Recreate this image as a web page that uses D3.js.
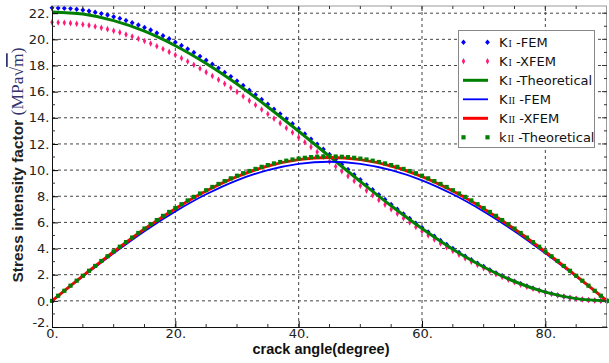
<!DOCTYPE html>
<html>
<head>
<meta charset="utf-8">
<script src="https://cdn.jsdelivr.net/npm/d3@7"></script>
<style>
body { margin: 0; background: #fff; }
svg { display: block; }
</style>
</head>
<body>
<svg id="chart" width="609" height="363"></svg>
<script>
// angles used by the marker series (degrees)
let markerAngles = [0,1,2,3,4,5,6,7,8,9,10,11,12,13,14,15,16,17,18,19,20,21,22,23,24,25,26,27,28,29,30,
  31,32,33,34,35,36,37,38,39,40,41,42,43,44,45,46,47,48,49,50,51,52,53,54,55,56,57,58,59,60,
  61,62,63,64,65,66,67,68,69,70,71,72,73,74,75,76,77,78,79,80,81,82,83,84,85,86,87,88,89,90]

// angles used by the solid line series
let lineAngles = [0,5,10,15,20,25,30,35,40,45,50,55,60,65,70,75,80,85,90]

let kiFem = [22.41,22.40,22.38,22.35,22.30,22.24,22.17,22.07,21.97,21.86,21.73,21.60,21.44,21.27,21.10,20.91,
  20.71,20.49,20.27,20.04,19.78,19.53,19.27,18.99,18.70,18.40,18.10,17.80,17.47,17.15,16.81,16.47,16.11,15.76,
  15.40,15.04,14.66,14.30,13.91,13.54,13.15,12.77,12.37,11.99,11.60,11.20,10.81,10.42,10.04,9.64,9.26,8.87,
  8.50,8.11,7.75,7.37,7.01,6.65,6.30,5.94,5.61,5.27,4.94,4.62,4.31,4.01,3.71,3.42,3.14,2.88,2.63,2.37,2.14,
  1.92,1.70,1.50,1.31,1.14,0.97,0.82,0.68,0.55,0.44,0.33,0.24,0.17,0.11,0.06,0.03,0.01,0]

let kiXfem = [21.30,21.29,21.27,21.24,21.19,21.13,21.07,20.98,20.88,20.78,20.65,20.53,20.37,20.22,20.05,19.87,
  19.68,19.47,19.26,19.04,18.80,18.56,18.31,18.05,17.77,17.49,17.20,16.91,16.60,16.30,15.98,15.65,15.31,14.98,
  14.64,14.29,13.94,13.59,13.22,12.87,12.50,12.13,11.76,11.39,11.03,10.65,10.28,9.91,9.54,9.17,8.80,8.43,
  8.08,7.71,7.36,7.01,6.66,6.32,5.99,5.65,5.33,5.01,4.69,4.39,4.10,3.81,3.53,3.25,2.99,2.74,2.50,2.26,2.04,
  1.82,1.62,1.43,1.24,1.08,0.93,0.78,0.65,0.52,0.42,0.32,0.23,0.16,0.11,0.06,0.03,0.01,0]

let kiTheory = [22.10,21.93,21.43,20.62,19.51,18.15,16.58,14.83,12.97,11.05,9.13,7.27,5.53,3.95,2.59,1.48,0.67,0.17,0]

let kiiFem = [0,1.85,3.64,5.33,6.84,8.15,9.22,10.00,10.48,10.64,10.48,10.00,9.22,8.15,6.84,5.33,3.64,1.85,0]

let kiiXfem = [0,1.91,3.75,5.49,7.05,8.40,9.50,10.31,10.80,10.97,10.80,10.31,9.50,8.40,7.05,5.49,3.75,1.91,0]

let kiiTheory = [0,0.39,0.77,1.16,1.54,1.92,2.30,2.67,3.05,3.41,3.78,4.14,4.49,4.84,5.19,5.53,5.86,6.18,6.50,
  6.80,7.10,7.39,7.68,7.95,8.21,8.46,8.71,8.94,9.16,9.37,9.57,9.76,9.93,10.09,10.25,10.38,10.51,10.62,10.72,
  10.81,10.88,10.94,10.99,11.02,11.04,11.05,11.04,11.02,10.99,10.94,10.88,10.81,10.72,10.62,10.51,10.38,10.25,
  10.09,9.93,9.76,9.57,9.37,9.16,8.94,8.71,8.46,8.21,7.95,7.68,7.39,7.10,6.80,6.50,6.18,5.86,5.53,5.19,4.84,
  4.49,4.14,3.78,3.41,3.05,2.67,2.30,1.92,1.54,1.16,0.77,0.39,0]

let xTicks = [0,20,40,60,80]
let yTicks = [-2,0,2,4,6,8,10,12,14,16,18,20,22]

let legendNames = ['K|I| -FEM','K|I| -XFEM','K|I| -Theoretical','K|II| -FEM','K|II| -XFEM','k|II| -Theoretical']

let pLeft = 52, pRight = 607, pTop = 6, pBottom = 327

let svg = d3.select('#chart')

let x = d3.scaleLinear().domain([0, 90]).range([pLeft, pRight])
let y = d3.scaleLinear().domain([-2, 22.55]).range([pBottom, pTop])

// grid
let grid = svg.append('g')
grid.selectAll('.gx')
  .data(xTicks.filter(d => d > 0))
  .enter()
  .append('line')
  .attr('x1', d => x(d)).attr('x2', d => x(d))
  .attr('y1', pTop).attr('y2', pBottom)
  .attr('stroke', '#444').attr('stroke-dasharray', '3,3')
grid.selectAll('.gy')
  .data(yTicks.filter(d => d > -2))
  .enter()
  .append('line')
  .attr('x1', pLeft).attr('x2', pRight)
  .attr('y1', d => y(d)).attr('y2', d => y(d))
  .attr('stroke', '#444').attr('stroke-dasharray', '3,3')

// marker shapes
let diamond = (w, h) => `M0,${-h}L${w},0L0,${h}L${-w},0Z`
let square = s => `M${-s},${-s}H${s}V${s}H${-s}Z`

let drawMarkers = (vals, path, color) => {
  svg.append('g').selectAll('path')
    .data(vals)
    .enter()
    .append('path')
    .attr('d', path)
    .attr('transform', (d, i) => `translate(${x(markerAngles[i])},${y(d)})`)
    .attr('fill', color)
}

let drawLine = (vals, color, width) => {
  let line = d3.line()
    .x((d, i) => x(lineAngles[i]))
    .y(d => y(d))
    .curve(d3.curveCatmullRom)
  svg.append('path')
    .datum(vals)
    .attr('d', line)
    .attr('fill', 'none')
    .attr('stroke', color)
    .attr('stroke-width', width)
}

drawMarkers(kiFem, diamond(2.4, 2.7), '#0000ff')
drawMarkers(kiXfem, diamond(1.7, 3.3), '#ff1a7a')
drawLine(kiTheory, '#008000', 3)
drawLine(kiiFem, '#0000ff', 1.8)
drawLine(kiiXfem, '#ff0000', 3)
drawMarkers(kiiTheory, square(2.1), '#008000')

// frame
svg.append('line').attr('x1', pLeft).attr('x2', pRight).attr('y1', pTop).attr('y2', pTop).attr('stroke', '#999')
svg.append('line').attr('x1', pRight - 0.5).attr('x2', pRight - 0.5).attr('y1', pTop).attr('y2', pBottom).attr('stroke', '#999')

let xAxis = d3.axisBottom(x)
  .tickValues(xTicks)
  .tickFormat(d => d + '.')
  .tickSizeInner(-6).tickSizeOuter(0).tickPadding(1.5)
let xg = svg.append('g').attr('transform', `translate(0,${pBottom})`).call(xAxis)
xg.select('.domain').attr('stroke', '#111')
xg.selectAll('text').attr('font-family', 'DejaVu Sans').attr('font-size', 13).attr('fill', '#222')

let yAxis = d3.axisLeft(y)
  .tickValues(yTicks)
  .tickFormat(d => d + '.')
  .tickSizeInner(-6).tickSizeOuter(0).tickPadding(2.5)
let yg = svg.append('g').attr('transform', `translate(${pLeft},0)`).call(yAxis)
yg.select('.domain').attr('stroke', '#111')
yg.selectAll('text').attr('font-family', 'DejaVu Sans').attr('font-size', 13).attr('fill', '#222')
// lowest label sits a little higher so it clears the "0." below it
yg.selectAll('.tick').filter(d => d === -2).select('text').attr('dy', '-0.05em')

// minor ticks
let minorX = [5,10,15,25,30,35,45,50,55,65,70,75,85]
svg.append('g').selectAll('line')
  .data(minorX)
  .enter()
  .append('line')
  .attr('x1', d => x(d)).attr('x2', d => x(d))
  .attr('y1', pBottom).attr('y2', pBottom - 3)
  .attr('stroke', '#333')
svg.append('g').selectAll('line')
  .data(minorX.concat(xTicks))
  .enter()
  .append('line')
  .attr('x1', d => x(d)).attr('x2', d => x(d))
  .attr('y1', pTop)
  .attr('y2', d => pTop + (d % 20 === 0 ? 5 : 3))
  .attr('stroke', '#333')
let minorY = [-1,1,3,5,7,9,11,13,15,17,19,21]
svg.append('g').selectAll('line')
  .data(minorY)
  .enter()
  .append('line')
  .attr('x1', pLeft).attr('x2', pLeft + 3)
  .attr('y1', d => y(d)).attr('y2', d => y(d))
  .attr('stroke', '#333')
svg.append('g').selectAll('line')
  .data(yTicks.concat(minorY))
  .enter()
  .append('line')
  .attr('x1', pRight).attr('x2', d => pRight - (d % 2 === 0 ? 5 : 3))
  .attr('y1', d => y(d)).attr('y2', d => y(d))
  .attr('stroke', '#333')

// axis titles
svg.append('text')
  .attr('x', 321).attr('y', 354)
  .attr('text-anchor', 'middle')
  .attr('font-family', 'Liberation Sans, Arial, sans-serif')
  .attr('font-weight', 'bold').attr('font-size', 14.5)
  .attr('fill', '#111')
  .text('crack angle(degree)')

let yt = svg.append('text')
  .attr('transform', 'translate(23,165) rotate(-90)')
  .attr('text-anchor', 'middle')
  .attr('font-family', 'Liberation Sans, Arial, sans-serif')
  .attr('font-weight', 'bold').attr('font-size', 15.5)
  .attr('fill', '#222')
yt.append('tspan').text('Stress intensity factor ')
let unit = yt.append('tspan')
  .attr('font-family', 'Liberation Serif, serif')
  .attr('font-weight', 'normal').attr('font-size', 17.5)
  .attr('fill', '#33336e')
unit.append('tspan').text('(MPa\u221A')
unit.append('tspan').attr('text-decoration', 'overline').text('m')
unit.append('tspan').text(')')

// legend
let lg = svg.append('g')
lg.append('rect')
  .attr('x', 458.5).attr('y', 30.5).attr('width', 136).attr('height', 117)
  .attr('fill', '#fff').attr('stroke', '#888')

let legendRows = [
  {kind: 'marker', path: diamond(2.4, 2.7), color: '#0000ff'},
  {kind: 'marker', path: diamond(1.7, 3.3), color: '#ff1a7a'},
  {kind: 'line', color: '#008000', width: 3},
  {kind: 'line', color: '#0000ff', width: 1.8},
  {kind: 'line', color: '#ff0000', width: 3},
  {kind: 'marker', path: square(2.1), color: '#008000'}
]

legendRows.forEach((row, i) => {
  let cy = 42.3 + i * 19
  if (row.kind === 'marker') {
    lg.append('path').attr('d', row.path).attr('fill', row.color).attr('transform', `translate(463.5,${cy})`)
    lg.append('path').attr('d', row.path).attr('fill', row.color).attr('transform', `translate(487.5,${cy})`)
  } else {
    lg.append('line').attr('x1', 463).attr('x2', 488).attr('y1', cy).attr('y2', cy)
      .attr('stroke', row.color).attr('stroke-width', row.width)
  }
  let parts = legendNames[i].split('|')
  let t = lg.append('text')
    .attr('x', 499).attr('y', cy + 4.5)
    .attr('font-family', 'DejaVu Sans').attr('font-size', 13)
    .attr('fill', '#111')
  t.append('tspan').text(parts[0])
  t.append('tspan').attr('font-family', 'Liberation Serif, serif').attr('font-size', 10).attr('dx', 1).text(parts[1])
  t.append('tspan').text(parts[2])
})
</script>
</body>
</html>
